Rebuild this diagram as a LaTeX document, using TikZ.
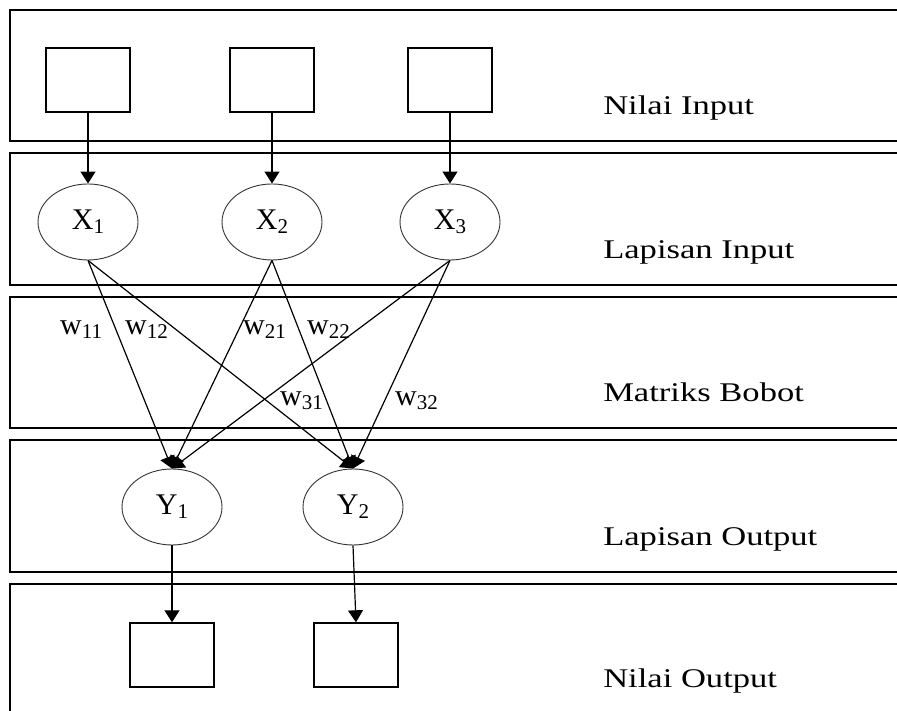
\documentclass[tikz,border=0pt]{standalone}
\usepackage{fontspec}
\setmainfont{Liberation Serif}
\usetikzlibrary{arrows.meta,shapes.geometric}
\newcommand{\idx}[1]{\raisebox{-4pt}{\fontsize{21}{21}\selectfont #1}}

\begin{document}
\begin{tikzpicture}[x=1pt,y=1pt,
	panel/.style={draw, line width=1.8pt},
	kotak/.style={draw, line width=1.4pt, minimum width=84pt, minimum height=64pt, inner sep=0pt},
	neuron/.style={draw=black!80, line width=0.9pt, ellipse, minimum width=100pt, minimum height=76pt, inner sep=0pt, font=\fontsize{30}{30}\selectfont},
	panah/.style={line width=1.2pt, -{Triangle[width=15pt,length=12pt]}},
	ket/.style={anchor=base west, inner sep=0pt, font=\fontsize{27}{30}\selectfont, xscale=1.28, transform shape},
	bobot/.style={anchor=base west, inner sep=0pt, font=\fontsize{30}{30}\selectfont}]

	\clip (0,0) rectangle (897,711);
	\fill[white] (0,0) rectangle (897,711);

	\draw [panel] (10,701) rectangle (910,570);
	\draw [panel] (10,558) rectangle (910,426);
	\draw [panel] (10,414) rectangle (910,283);
	\draw [panel] (10,271) rectangle (910,139);
	\draw [panel] (10,127) rectangle (910,-20);

	\node [kotak] (in1) at (88,631) {};
	\node [kotak] (in2) at (272,631) {};
	\node [kotak] (in3) at (450,631) {};

	\node [neuron] (x1) at (88,489) {X\idx{1}};
	\node [neuron] (x2) at (272,489) {X\idx{2}};
	\node [neuron] (x3) at (450,489) {X\idx{3}};

	\node [neuron] (y1) at (172,204) {Y\idx{1}};
	\node [neuron] (y2) at (353,204) {Y\idx{2}};

	\node [kotak] (out1) at (172,56) {};
	\node [kotak] (out2) at (356,56) {};

	\foreach \i in {1,2,3}
		\draw [panah] (in\i.south) -- (x\i.north);
	\foreach \i in {1,2,3}
		\foreach \j in {1,2}
			\draw [panah] (x\i.south) -- (y\j.north);
	\draw [panah] (y1.south) -- (out1.north);
	\draw [panah] (y2.south) -- (out2.north);

	\node [bobot] (w11) at (60,376) {w\idx{11}};
	\node [bobot] (w12) at (125,376) {w\idx{12}};
	\node [bobot] (w21) at (243,376) {w\idx{21}};
	\node [bobot] (w22) at (307,376) {w\idx{22}};
	\node [bobot] (w31) at (280,305) {w\idx{31}};
	\node [bobot] (w32) at (395,305) {w\idx{32}};

	\node [ket] (nilaiin) at (603,596) {Nilai Input};
	\node [ket] (lapin) at (603,452) {Lapisan Input};
	\node [ket] (matriks) at (603,309) {Matriks Bobot};
	\node [ket] (lapout) at (603,165) {Lapisan Output};
	\node [ket] (nilaiout) at (603,23) {Nilai Output};

\end{tikzpicture}
\end{document}
